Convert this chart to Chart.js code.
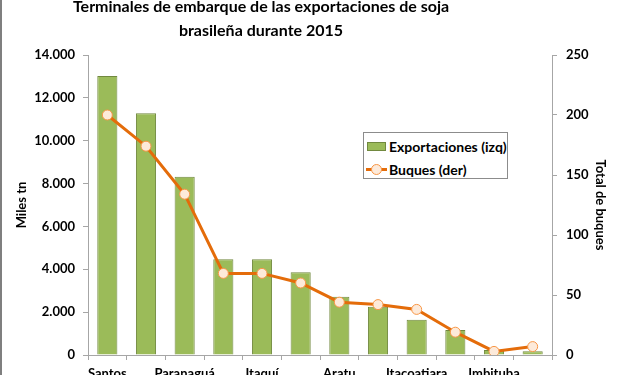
<!DOCTYPE html>
<html>
<head>
<meta charset="utf-8">
<script src="https://cdn.jsdelivr.net/npm/chart.js@4"></script>
<style>
  html, body { margin: 0; padding: 0; background: #fff; }
  #wrap { position: relative; width: 620px; height: 375px; overflow: hidden; }
  #edge { position: absolute; left: 0; top: 0; width: 2px; height: 375px; background: #7f7f7f; }
  #legend {
    position: absolute; left: 363px; top: 132px; width: 143px; height: 45px;
    border: 1px solid #8c8c8c; background: #fff;
    font: bold 14px Lato, sans-serif; color: #000;
  }
  #legend .row { position: absolute; left: 2px; height: 16px; display: flex; align-items: center; white-space: nowrap; }
  #legend .sw { width: 20px; height: 16px; position: relative; margin-right: 3px; flex: none; }
</style>
</head>
<body>
<div id="wrap">
  <canvas id="soyChart" width="620" height="375"></canvas>
  <div id="edge"></div>
  <div id="legend"></div>
</div>
<script>
const titleLines = ["Terminales de embarque de las exportaciones de soja", "brasileña durante 2015"];
const terminals = ["Santos", "Rio Grande", "Paranaguá", "São Francisco do Sul", "Itaquí", "Vitória",
  "Aratu", "Santarém", "Itacoatiara", "Barcarena", "Imbituba", "Salvador"];
const exportsKt = [13020, 11280, 8320, 4470, 4470, 3860, 2720, 2250, 1650, 1170, 230, 170];
const vessels = [200, 174, 134, 68, 68, 60, 44, 42, 38, 19, 3, 7];
const leftTicks = [0, 2000, 4000, 6000, 8000, 10000, 12000, 14000];
const rightTicks = [0, 50, 100, 150, 200, 250];

const GREEN = "#9bbb59", GREEN_EDGE = "#71893f";
const ORANGE = "#e46c0a", DOT = "#fdeada", DOT_EDGE = "#f79646";
const AXIS = "#a6a6a6";

Chart.defaults.font.family = "Lato, sans-serif";
Chart.defaults.color = "#000";

const fmtMiles = (v) => String(v).replace(/\B(?=(\d{3})+(?!\d))/g, ".");

const titlePlugin = {
  id: "sheetTitle",
  afterDraw(chart) {
    const { ctx } = chart;
    ctx.save();
    ctx.font = "bold 16px Lato, sans-serif";
    ctx.fillStyle = "#000";
    ctx.textAlign = "center";
    ctx.textBaseline = "alphabetic";
    titleLines.forEach((t, i) => ctx.fillText(t, 261, 12 + i * 24));
    ctx.restore();
  },
};

const tickFont = { size: 13, weight: "bold" };

const chart = new Chart(document.getElementById("soyChart"), {
  data: {
    labels: terminals,
    datasets: [
      {
        type: "line",
        label: "Buques (der)",
        data: vessels,
        yAxisID: "y1",
        order: 0,
        borderColor: ORANGE,
        borderWidth: 3,
        pointRadius: 5,
        pointBackgroundColor: DOT,
        pointBorderColor: DOT_EDGE,
        pointBorderWidth: 1,
        tension: 0,
      },
      {
        type: "bar",
        label: "Exportaciones (izq)",
        data: exportsKt,
        yAxisID: "y",
        order: 1,
        backgroundColor: GREEN,
        borderColor: GREEN_EDGE,
        borderWidth: 1,
        categoryPercentage: 1,
        barPercentage: 0.52,
      },
    ],
  },
  options: {
    responsive: false,
    animation: false,
    layout: { padding: { top: 55, left: 0, right: 0, bottom: 0 } },
    plugins: { legend: { display: false }, tooltip: { enabled: false }, title: { display: false } },
    scales: {
      x: {
        offset: true,
        grid: { offset: true, drawOnChartArea: false, color: AXIS, tickLength: 5 },
        border: { color: AXIS },
        ticks: {
          autoSkip: false,
          maxRotation: 0,
          padding: 6,
          font: tickFont,
          callback: (v, i) => (i % 2 === 0 ? terminals[i] : ""),
        },
        afterFit: (s) => { s.height = 20; },
      },
      y: {
        position: "left",
        min: 0,
        max: 14000,
        afterBuildTicks: (s) => { s.ticks = leftTicks.map((v) => ({ value: v })); },
        grid: { drawOnChartArea: false, color: AXIS, tickLength: 5 },
        border: { color: AXIS },
        ticks: { padding: 8, font: tickFont, callback: (v) => fmtMiles(v) },
        title: { display: true, text: "Miles tn", font: { size: 13, weight: "bold" }, padding: { top: 14, bottom: 0 } },
        afterFit: (s) => { s.width = 88; },
      },
      y1: {
        position: "right",
        min: 0,
        max: 250,
        afterBuildTicks: (s) => { s.ticks = rightTicks.map((v) => ({ value: v })); },
        grid: { drawOnChartArea: false, color: AXIS, tickLength: 5 },
        border: { color: AXIS },
        ticks: { padding: 9, font: tickFont },
        title: { display: true, text: "Total de buques", font: { size: 13, weight: "bold" }, padding: { top: 12, bottom: 0 } },
        afterFit: (s) => { s.width = 68; },
      },
    },
  },
  plugins: [titlePlugin],
});

// legend box, built from the datasets (bar first, like the original)
const legendEl = document.getElementById("legend");
[...chart.data.datasets].reverse().forEach((ds, i) => {
  const row = document.createElement("div");
  row.className = "row";
  row.style.top = (5 + i * 23) + "px";
  const sw = document.createElement("div");
  sw.className = "sw";
  if (ds.type === "bar") {
    sw.innerHTML = `<div style="position:absolute;left:1px;top:4px;width:17px;height:7px;background:${ds.backgroundColor};border:1px solid ${ds.borderColor}"></div>`;
  } else {
    sw.innerHTML = `<div style="position:absolute;left:0;top:7px;width:21px;height:3px;background:${ds.borderColor}"></div>` +
      `<div style="position:absolute;left:5px;top:3px;width:9px;height:9px;border-radius:50%;background:${ds.pointBackgroundColor};border:1px solid ${ds.pointBorderColor}"></div>`;
  }
  const txt = document.createElement("span");
  txt.textContent = ds.label;
  row.appendChild(sw);
  row.appendChild(txt);
  legendEl.appendChild(row);
});
</script>
</body>
</html>
